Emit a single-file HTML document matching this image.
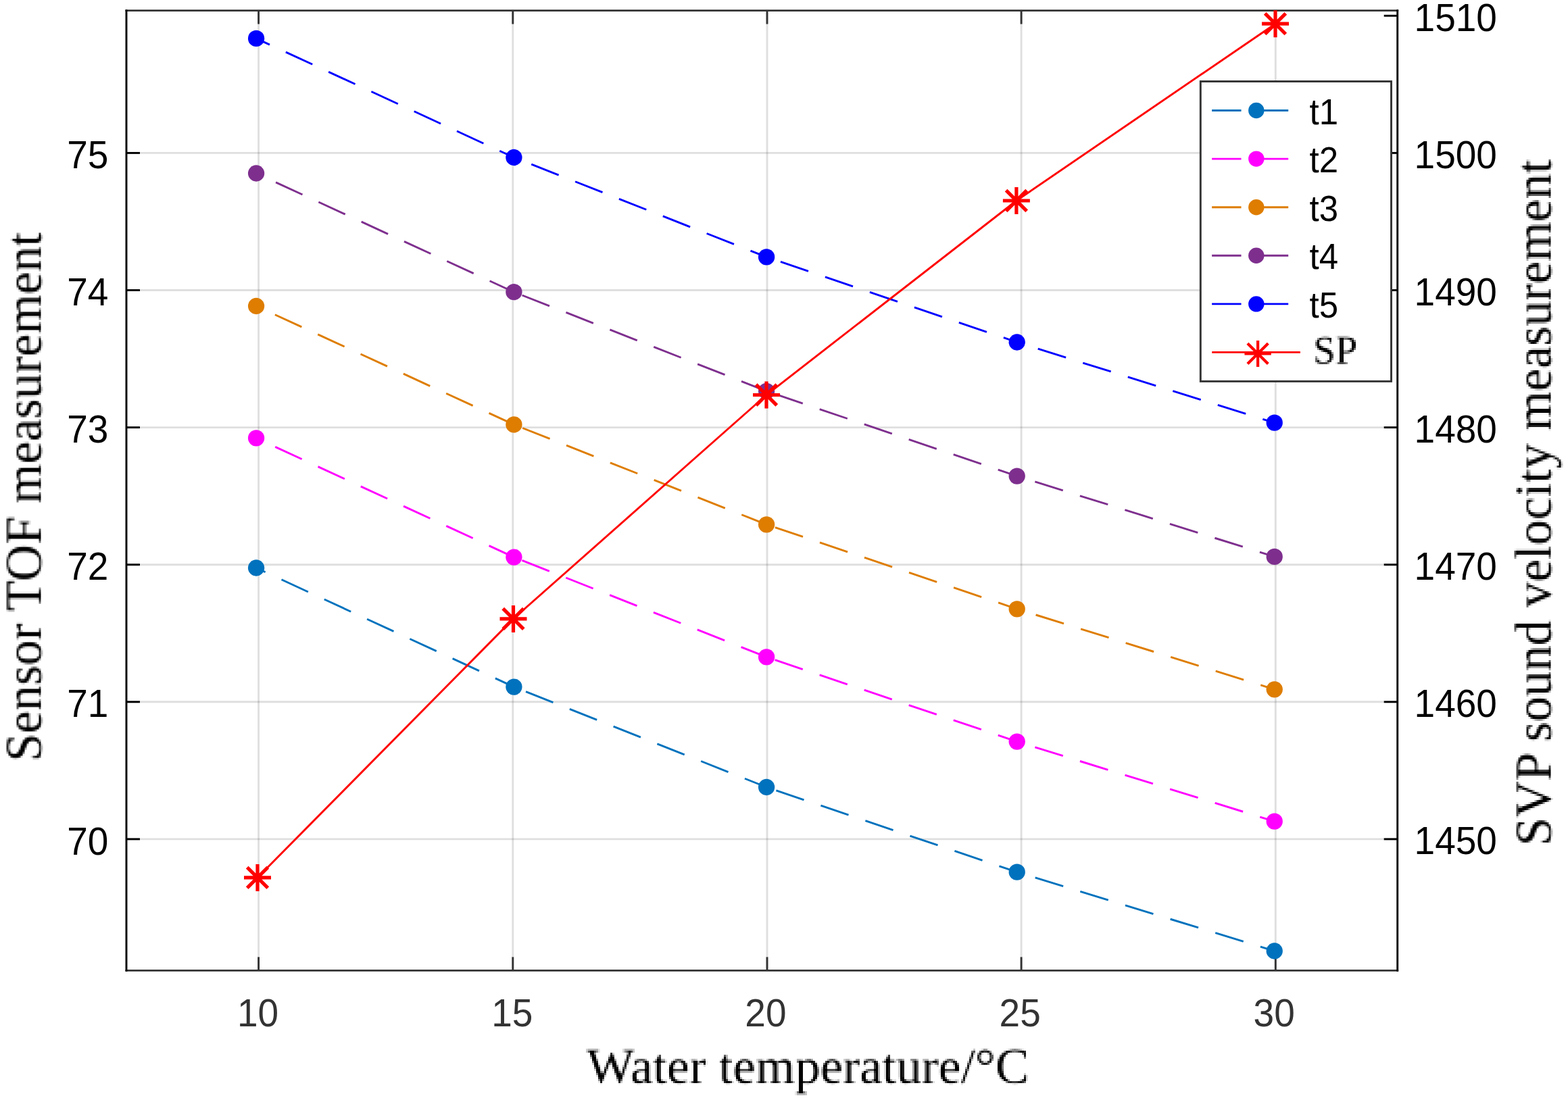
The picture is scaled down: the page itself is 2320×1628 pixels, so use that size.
<!DOCTYPE html><html><head><meta charset="utf-8"><title>Sensor TOF measurement vs water temperature</title>
<style>html,body{margin:0;padding:0;background:#fff;overflow:hidden;width:2320px;height:1628px;}svg{display:block;}.tk{font-family:"Liberation Sans",Arial,sans-serif;font-size:57px;}.lb{font-family:"Liberation Serif","Times New Roman",serif;font-size:75px;}.lby{font-size:75.3px;}.lg{font-family:"Liberation Sans",Arial,sans-serif;font-size:53px;}</style></head><body>
<svg width="2320" height="1628" viewBox="0 0 2320 1628">
<rect x="0" y="0" width="2320" height="1628" fill="#fff"/>
<defs><filter id="pxX" filterUnits="userSpaceOnUse" x="850" y="1535" width="700" height="93" color-interpolation-filters="sRGB"><feGaussianBlur in="SourceGraphic" stdDeviation="1.0" result="b"/><feFlood x="850" y="1535" width="1" height="1" flood-color="#000" flood-opacity="1" result="d"/><feComposite in="d" in2="d" operator="over" x="850" y="1535" width="3" height="3" result="t"/><feTile in="t" x="850" y="1535" width="700" height="93" result="g"/><feComposite in="b" in2="g" operator="in" result="s"/><feComponentTransfer in="s" result="c"><feFuncA type="linear" slope="1.25" intercept="-0.12"/></feComponentTransfer><feMorphology in="c" operator="dilate" radius="1" result="m"/><feGaussianBlur in="m" stdDeviation="0.6"/></filter><filter id="pxL" filterUnits="userSpaceOnUse" x="-400" y="-62" width="800" height="84" color-interpolation-filters="sRGB"><feGaussianBlur in="SourceGraphic" stdDeviation="1.0" result="b"/><feFlood x="-400" y="-62" width="1" height="1" flood-color="#000" flood-opacity="1" result="d"/><feComposite in="d" in2="d" operator="over" x="-400" y="-62" width="3" height="3" result="t"/><feTile in="t" x="-400" y="-62" width="800" height="84" result="g"/><feComposite in="b" in2="g" operator="in" result="s"/><feComponentTransfer in="s" result="c"><feFuncA type="linear" slope="1.25" intercept="-0.12"/></feComponentTransfer><feMorphology in="c" operator="dilate" radius="1" result="m"/><feGaussianBlur in="m" stdDeviation="0.6"/></filter><filter id="pxR" filterUnits="userSpaceOnUse" x="-520" y="-62" width="1040" height="84" color-interpolation-filters="sRGB"><feGaussianBlur in="SourceGraphic" stdDeviation="1.0" result="b"/><feFlood x="-520" y="-62" width="1" height="1" flood-color="#000" flood-opacity="1" result="d"/><feComposite in="d" in2="d" operator="over" x="-520" y="-62" width="3" height="3" result="t"/><feTile in="t" x="-520" y="-62" width="1040" height="84" result="g"/><feComposite in="b" in2="g" operator="in" result="s"/><feComponentTransfer in="s" result="c"><feFuncA type="linear" slope="1.25" intercept="-0.12"/></feComponentTransfer><feMorphology in="c" operator="dilate" radius="1" result="m"/><feGaussianBlur in="m" stdDeviation="0.6"/></filter><filter id="pxS" filterUnits="userSpaceOnUse" x="1938" y="486" width="75" height="62" color-interpolation-filters="sRGB"><feGaussianBlur in="SourceGraphic" stdDeviation="1.0" result="b"/><feFlood x="1938" y="486" width="1" height="1" flood-color="#000" flood-opacity="1" result="d"/><feComposite in="d" in2="d" operator="over" x="1938" y="486" width="3" height="3" result="t"/><feTile in="t" x="1938" y="486" width="75" height="62" result="g"/><feComposite in="b" in2="g" operator="in" result="s"/><feComponentTransfer in="s" result="c"><feFuncA type="linear" slope="1.25" intercept="-0.12"/></feComponentTransfer><feMorphology in="c" operator="dilate" radius="1" result="m"/><feGaussianBlur in="m" stdDeviation="0.6"/></filter></defs>
<g stroke="#262626" stroke-opacity="0.15" stroke-width="2.9" fill="none">
<line x1="382.6" y1="15.6" x2="382.6" y2="1436.4"/>
<line x1="758.8" y1="15.6" x2="758.8" y2="1436.4"/>
<line x1="1135.0" y1="15.6" x2="1135.0" y2="1436.4"/>
<line x1="1511.1" y1="15.6" x2="1511.1" y2="1436.4"/>
<line x1="1887.3" y1="15.6" x2="1887.3" y2="1436.4"/>
<line x1="187.0" y1="226.4" x2="2067.7" y2="226.4"/>
<line x1="187.0" y1="429.5" x2="2067.7" y2="429.5"/>
<line x1="187.0" y1="632.6" x2="2067.7" y2="632.6"/>
<line x1="187.0" y1="835.7" x2="2067.7" y2="835.7"/>
<line x1="187.0" y1="1038.8" x2="2067.7" y2="1038.8"/>
<line x1="187.0" y1="1241.9" x2="2067.7" y2="1241.9"/>
</g>
<g stroke="#333333" stroke-width="2.9">
<line x1="382.6" y1="1436.4" x2="382.6" y2="1416.4"/>
<line x1="382.6" y1="15.6" x2="382.6" y2="35.6"/>
<line x1="758.8" y1="1436.4" x2="758.8" y2="1416.4"/>
<line x1="758.8" y1="15.6" x2="758.8" y2="35.6"/>
<line x1="1135.0" y1="1436.4" x2="1135.0" y2="1416.4"/>
<line x1="1135.0" y1="15.6" x2="1135.0" y2="35.6"/>
<line x1="1511.1" y1="1436.4" x2="1511.1" y2="1416.4"/>
<line x1="1511.1" y1="15.6" x2="1511.1" y2="35.6"/>
<line x1="1887.3" y1="1436.4" x2="1887.3" y2="1416.4"/>
<line x1="1887.3" y1="15.6" x2="1887.3" y2="35.6"/>
</g>
<g stroke="#000" stroke-width="2.9">
<line x1="187.0" y1="226.4" x2="207.0" y2="226.4"/>
<line x1="187.0" y1="429.5" x2="207.0" y2="429.5"/>
<line x1="187.0" y1="632.6" x2="207.0" y2="632.6"/>
<line x1="187.0" y1="835.7" x2="207.0" y2="835.7"/>
<line x1="187.0" y1="1038.8" x2="207.0" y2="1038.8"/>
<line x1="187.0" y1="1241.9" x2="207.0" y2="1241.9"/>
<line x1="2067.7" y1="23.3" x2="2047.7" y2="23.3"/>
<line x1="2067.7" y1="226.4" x2="2047.7" y2="226.4"/>
<line x1="2067.7" y1="429.5" x2="2047.7" y2="429.5"/>
<line x1="2067.7" y1="632.6" x2="2047.7" y2="632.6"/>
<line x1="2067.7" y1="835.7" x2="2047.7" y2="835.7"/>
<line x1="2067.7" y1="1038.8" x2="2047.7" y2="1038.8"/>
<line x1="2067.7" y1="1241.9" x2="2047.7" y2="1241.9"/>
</g>
<line x1="185.55" y1="15.6" x2="2069.1499999999996" y2="15.6" stroke="#333333" stroke-width="2.9"/>
<line x1="185.55" y1="1436.4" x2="2069.1499999999996" y2="1436.4" stroke="#333333" stroke-width="2.9"/>
<line x1="187.0" y1="14.15" x2="187.0" y2="1437.8500000000001" stroke="#000" stroke-width="2.9"/>
<line x1="2067.7" y1="14.15" x2="2067.7" y2="1437.8500000000001" stroke="#000" stroke-width="2.9"/>
<g class="tk" fill="#000" text-anchor="end">
<text x="160.3" y="249.0" textLength="61.17" lengthAdjust="spacingAndGlyphs">75</text>
<text x="160.3" y="452.1" textLength="61.17" lengthAdjust="spacingAndGlyphs">74</text>
<text x="160.3" y="655.2" textLength="61.17" lengthAdjust="spacingAndGlyphs">73</text>
<text x="160.3" y="858.3" textLength="61.17" lengthAdjust="spacingAndGlyphs">72</text>
<text x="160.3" y="1061.4" textLength="61.17" lengthAdjust="spacingAndGlyphs">71</text>
<text x="160.3" y="1264.5" textLength="61.17" lengthAdjust="spacingAndGlyphs">70</text>
</g>
<g class="tk" fill="#000">
<text x="2092.6" y="45.8" textLength="122.35" lengthAdjust="spacingAndGlyphs">1510</text>
<text x="2092.6" y="248.9" textLength="122.35" lengthAdjust="spacingAndGlyphs">1500</text>
<text x="2092.6" y="452.0" textLength="122.35" lengthAdjust="spacingAndGlyphs">1490</text>
<text x="2092.6" y="655.1" textLength="122.35" lengthAdjust="spacingAndGlyphs">1480</text>
<text x="2092.6" y="858.2" textLength="122.35" lengthAdjust="spacingAndGlyphs">1470</text>
<text x="2092.6" y="1061.3" textLength="122.35" lengthAdjust="spacingAndGlyphs">1460</text>
<text x="2092.6" y="1264.4" textLength="122.35" lengthAdjust="spacingAndGlyphs">1450</text>
</g>
<g class="tk" fill="#333333" text-anchor="middle">
<text x="381.6" y="1519.3" textLength="61.17" lengthAdjust="spacingAndGlyphs">10</text>
<text x="757.8" y="1519.3" textLength="61.17" lengthAdjust="spacingAndGlyphs">15</text>
<text x="1132.9" y="1519.3" textLength="61.17" lengthAdjust="spacingAndGlyphs">20</text>
<text x="1509.2" y="1519.3" textLength="61.17" lengthAdjust="spacingAndGlyphs">25</text>
<text x="1885.2" y="1519.3" textLength="61.17" lengthAdjust="spacingAndGlyphs">30</text>
</g>
<text class="lb" x="1195.3" y="1602.6" fill="#000" text-anchor="middle" filter="url(#pxX)">Water temperature/°C</text>
<text class="lb lby" transform="translate(60.5,735.5) rotate(-90)" fill="#000" text-anchor="middle" filter="url(#pxL)">Sensor TOF measurement</text>
<text class="lb lby" transform="translate(2294.5,744) rotate(-90)" fill="#000" text-anchor="middle" filter="url(#pxR)">SVP sound velocity measurement</text>
<line x1="379.1" y1="840.5" x2="760.4" y2="1016.6" stroke="#0072BD" stroke-width="2.9" stroke-dasharray="43.4 26.3" stroke-dashoffset="28.5"/>
<line x1="760.4" y1="1016.6" x2="1134.1" y2="1165.0" stroke="#0072BD" stroke-width="2.9" stroke-dasharray="43.4 26.3" stroke-dashoffset="50.7"/>
<line x1="1134.1" y1="1165.0" x2="1504.7" y2="1290.7" stroke="#0072BD" stroke-width="2.9" stroke-dasharray="43.4 26.3" stroke-dashoffset="54.6"/>
<line x1="1504.7" y1="1290.7" x2="1885.7" y2="1407.5" stroke="#0072BD" stroke-width="2.9" stroke-dasharray="43.4 26.3" stroke-dashoffset="41.5"/>
<circle cx="379.1" cy="840.5" r="12.15" fill="#0072BD"/>
<circle cx="760.4" cy="1016.6" r="12.15" fill="#0072BD"/>
<circle cx="1134.1" cy="1165.0" r="12.15" fill="#0072BD"/>
<circle cx="1504.7" cy="1290.7" r="12.15" fill="#0072BD"/>
<circle cx="1885.7" cy="1407.5" r="12.15" fill="#0072BD"/>
<line x1="379.1" y1="648.3" x2="760.4" y2="824.6" stroke="#FF00FF" stroke-width="2.9" stroke-dasharray="43.4 26.3" stroke-dashoffset="38.7"/>
<line x1="760.4" y1="824.6" x2="1134.1" y2="972.4" stroke="#FF00FF" stroke-width="2.9" stroke-dasharray="43.4 26.3" stroke-dashoffset="56.7"/>
<line x1="1134.1" y1="972.4" x2="1504.7" y2="1097.6" stroke="#FF00FF" stroke-width="2.9" stroke-dasharray="43.4 26.3" stroke-dashoffset="56.5"/>
<line x1="1504.7" y1="1097.6" x2="1885.7" y2="1215.7" stroke="#FF00FF" stroke-width="2.9" stroke-dasharray="43.4 26.3" stroke-dashoffset="41.8"/>
<circle cx="379.1" cy="648.3" r="12.15" fill="#FF00FF"/>
<circle cx="760.4" cy="824.6" r="12.15" fill="#FF00FF"/>
<circle cx="1134.1" cy="972.4" r="12.15" fill="#FF00FF"/>
<circle cx="1504.7" cy="1097.6" r="12.15" fill="#FF00FF"/>
<circle cx="1885.7" cy="1215.7" r="12.15" fill="#FF00FF"/>
<line x1="379.1" y1="453.0" x2="760.4" y2="628.4" stroke="#DE7D00" stroke-width="2.9" stroke-dasharray="43.4 26.3" stroke-dashoffset="39.1"/>
<line x1="760.4" y1="628.4" x2="1134.1" y2="776.3" stroke="#DE7D00" stroke-width="2.9" stroke-dasharray="43.4 26.3" stroke-dashoffset="55.9"/>
<line x1="1134.1" y1="776.3" x2="1504.7" y2="901.3" stroke="#DE7D00" stroke-width="2.9" stroke-dasharray="43.4 26.3" stroke-dashoffset="56.2"/>
<line x1="1504.7" y1="901.3" x2="1885.7" y2="1020.3" stroke="#DE7D00" stroke-width="2.9" stroke-dasharray="43.4 26.3" stroke-dashoffset="40.5"/>
<circle cx="379.1" cy="453.0" r="12.15" fill="#DE7D00"/>
<circle cx="760.4" cy="628.4" r="12.15" fill="#DE7D00"/>
<circle cx="1134.1" cy="776.3" r="12.15" fill="#DE7D00"/>
<circle cx="1504.7" cy="901.3" r="12.15" fill="#DE7D00"/>
<circle cx="1885.7" cy="1020.3" r="12.15" fill="#DE7D00"/>
<line x1="379.1" y1="256.5" x2="760.4" y2="432.2" stroke="#7E2F8E" stroke-width="2.9" stroke-dasharray="43.4 26.3" stroke-dashoffset="37.8"/>
<line x1="760.4" y1="432.2" x2="1134.1" y2="578.9" stroke="#7E2F8E" stroke-width="2.9" stroke-dasharray="43.4 26.3" stroke-dashoffset="56.6"/>
<line x1="1134.1" y1="578.9" x2="1504.7" y2="704.6" stroke="#7E2F8E" stroke-width="2.9" stroke-dasharray="43.4 26.3" stroke-dashoffset="56.4"/>
<line x1="1504.7" y1="704.6" x2="1885.7" y2="823.9" stroke="#7E2F8E" stroke-width="2.9" stroke-dasharray="43.4 26.3" stroke-dashoffset="41.8"/>
<circle cx="379.1" cy="256.5" r="12.15" fill="#7E2F8E"/>
<circle cx="760.4" cy="432.2" r="12.15" fill="#7E2F8E"/>
<circle cx="1134.1" cy="578.9" r="12.15" fill="#7E2F8E"/>
<circle cx="1504.7" cy="704.6" r="12.15" fill="#7E2F8E"/>
<circle cx="1885.7" cy="823.9" r="12.15" fill="#7E2F8E"/>
<line x1="379.1" y1="56.9" x2="760.4" y2="233.0" stroke="#0000FF" stroke-width="2.9" stroke-dasharray="43.4 26.3" stroke-dashoffset="21.5"/>
<line x1="760.4" y1="233.0" x2="1134.1" y2="380.4" stroke="#0000FF" stroke-width="2.9" stroke-dasharray="43.4 26.3" stroke-dashoffset="41.9"/>
<line x1="1134.1" y1="380.4" x2="1504.7" y2="506.5" stroke="#0000FF" stroke-width="2.9" stroke-dasharray="43.4 26.3" stroke-dashoffset="47.7"/>
<line x1="1504.7" y1="506.5" x2="1885.7" y2="625.7" stroke="#0000FF" stroke-width="2.9" stroke-dasharray="43.4 26.3" stroke-dashoffset="37.2"/>
<circle cx="379.1" cy="56.9" r="12.15" fill="#0000FF"/>
<circle cx="760.4" cy="233.0" r="12.15" fill="#0000FF"/>
<circle cx="1134.1" cy="380.4" r="12.15" fill="#0000FF"/>
<circle cx="1504.7" cy="506.5" r="12.15" fill="#0000FF"/>
<circle cx="1885.7" cy="625.7" r="12.15" fill="#0000FF"/>
<polyline points="381.0,1298.9 759.5,915.9 1134.0,584.5 1503.9,297.0 1887.0,35.2" fill="none" stroke="#FF0000" stroke-width="2.9"/>
<path transform="translate(381.0,1298.9)" d="M-20,0H20M0,-20V20M-15.3,-15.3L15.3,15.3M-15.3,15.3L15.3,-15.3" stroke="#FF0000" stroke-width="5.2" fill="none"/>
<path transform="translate(759.5,915.9)" d="M-20,0H20M0,-20V20M-15.3,-15.3L15.3,15.3M-15.3,15.3L15.3,-15.3" stroke="#FF0000" stroke-width="5.2" fill="none"/>
<path transform="translate(1134.0,584.5)" d="M-20,0H20M0,-20V20M-15.3,-15.3L15.3,15.3M-15.3,15.3L15.3,-15.3" stroke="#FF0000" stroke-width="5.2" fill="none"/>
<path transform="translate(1503.9,297.0)" d="M-20,0H20M0,-20V20M-15.3,-15.3L15.3,15.3M-15.3,15.3L15.3,-15.3" stroke="#FF0000" stroke-width="5.2" fill="none"/>
<path transform="translate(1887.0,35.2)" d="M-20,0H20M0,-20V20M-15.3,-15.3L15.3,15.3M-15.3,15.3L15.3,-15.3" stroke="#FF0000" stroke-width="5.2" fill="none"/>
<rect x="1776.3" y="120.5" width="282.2" height="443.9" fill="#fff" stroke="#333333" stroke-width="2.9"/>
<line x1="1793.1" y1="163.5" x2="1907.2" y2="163.5" stroke="#0072BD" stroke-width="2.9" stroke-dasharray="43.4 26.3"/>
<circle cx="1858.8" cy="163.5" r="11.7" fill="#0072BD"/>
<text class="lg" x="1937.5" y="183.5" fill="#000" textLength="42.53" lengthAdjust="spacingAndGlyphs">t1</text>
<line x1="1793.1" y1="235.1" x2="1907.2" y2="235.1" stroke="#FF00FF" stroke-width="2.9" stroke-dasharray="43.4 26.3"/>
<circle cx="1858.8" cy="235.1" r="11.7" fill="#FF00FF"/>
<text class="lg" x="1937.5" y="255.1" fill="#000" textLength="42.53" lengthAdjust="spacingAndGlyphs">t2</text>
<line x1="1793.1" y1="306.7" x2="1907.2" y2="306.7" stroke="#DE7D00" stroke-width="2.9" stroke-dasharray="43.4 26.3"/>
<circle cx="1858.8" cy="306.7" r="11.7" fill="#DE7D00"/>
<text class="lg" x="1937.5" y="326.7" fill="#000" textLength="42.53" lengthAdjust="spacingAndGlyphs">t3</text>
<line x1="1793.1" y1="378.3" x2="1907.2" y2="378.3" stroke="#7E2F8E" stroke-width="2.9" stroke-dasharray="43.4 26.3"/>
<circle cx="1858.8" cy="378.3" r="11.7" fill="#7E2F8E"/>
<text class="lg" x="1937.5" y="398.3" fill="#000" textLength="42.53" lengthAdjust="spacingAndGlyphs">t4</text>
<line x1="1793.1" y1="449.9" x2="1907.2" y2="449.9" stroke="#0000FF" stroke-width="2.9" stroke-dasharray="43.4 26.3"/>
<circle cx="1858.8" cy="449.9" r="11.7" fill="#0000FF"/>
<text class="lg" x="1937.5" y="469.9" fill="#000" textLength="42.53" lengthAdjust="spacingAndGlyphs">t5</text>
<line x1="1793.2" y1="521.4" x2="1923.9" y2="521.4" stroke="#FF0000" stroke-width="2.9"/>
<path transform="translate(1861.1,523.4)" d="M-19.7,0H19.7M0,-19.5V19.5M-15.2,-15.2L15.2,15.2M-15.2,15.2L15.2,-15.2" stroke="#FF0000" stroke-width="4.2" fill="none"/>
<text x="1943.2" y="538" fill="#000" filter="url(#pxS)" style="font-family:'Liberation Serif','Times New Roman',serif;font-size:58.5px">SP</text>
</svg></body></html>
